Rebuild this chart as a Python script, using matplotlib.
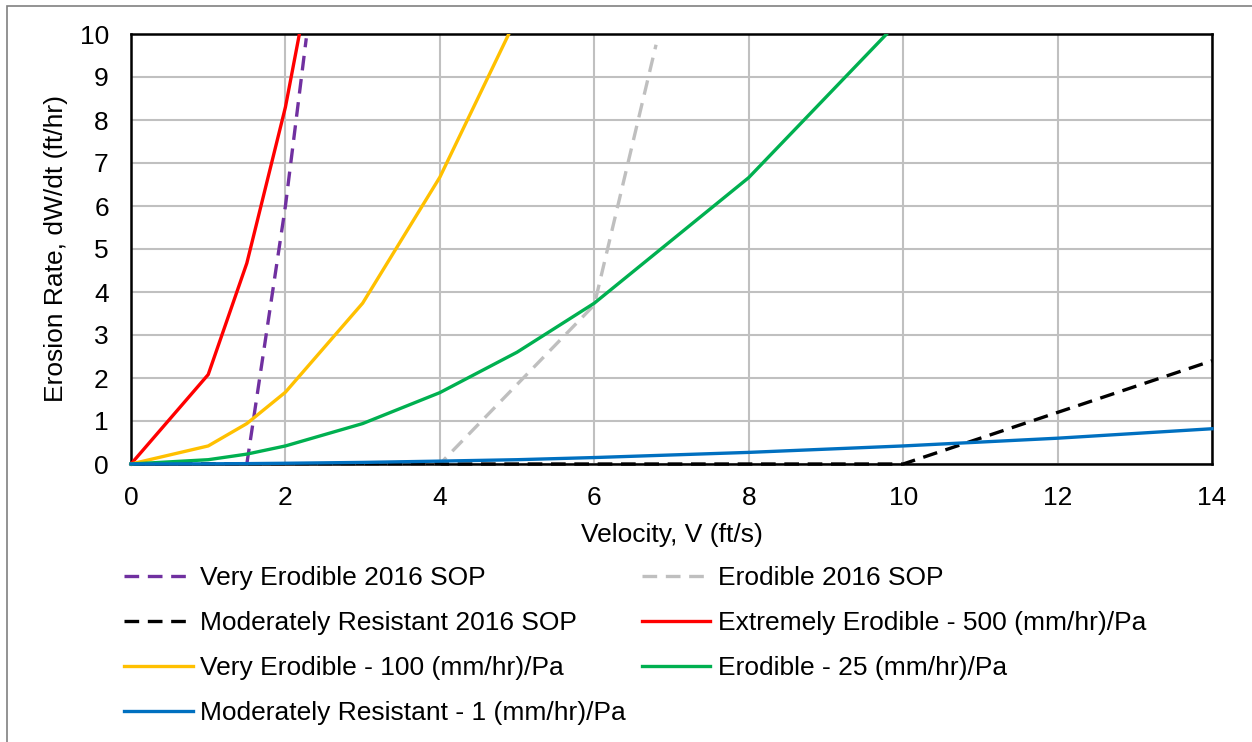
import matplotlib
matplotlib.use("Agg")
import matplotlib.pyplot as plt
from matplotlib.patches import Rectangle

plt.rcParams['font.family'] = ['Liberation Sans', 'DejaVu Sans']

# 2016 SOP curves (dashed)
ve_sop_v = [0, 1.5, 2.0, 2.27]
ve_sop_e = [0, 0, 6.0, 9.9]
e_sop_v = [0, 4, 6, 6.8]
e_sop_e = [0, 0, 3.7, 9.75]
mr_sop_v = [0, 10, 14]
mr_sop_e = [0, 0, 2.4]

# erodibility curves (solid)
ee_v = [0, 1, 1.5, 2, 2.5]
ee_e = [0, 2.08, 4.67, 8.3, 13.0]
ve_v = [0, 1, 1.5, 2, 3, 4, 5]
ve_e = [0, 0.42, 0.94, 1.67, 3.74, 6.67, 10.4]
er_v = [0, 1, 1.5, 2, 3, 4, 5, 6, 8, 10, 12]
er_e = [0, 0.10, 0.23, 0.42, 0.94, 1.66, 2.6, 3.74, 6.66, 10.4, 15.0]
mr_v = [0, 1, 1.5, 2, 3, 4, 5, 6, 8, 10, 12, 14]
mr_e = [0, 0.004, 0.009, 0.017, 0.037, 0.067, 0.10, 0.15, 0.27, 0.42, 0.60, 0.82]

xticks = [0, 2, 4, 6, 8, 10, 12, 14]
yticks = list(range(0, 11))

fs = 19
fig = plt.figure(figsize=(12.52, 7.42), dpi=100)
ax = fig.add_axes([131 / 1252, 1 - 464 / 742, 1081 / 1252, 430 / 742])

# outer chart frame
fig.patches.append(Rectangle((7 / 1252, -0.1), 1.2, 1 - 6 / 742 + 0.1,
                             transform=fig.transFigure, fill=False,
                             edgecolor="#808080", linewidth=1.2))

lw = 2.4
dash = (4.4, 2.6)
series = [
    (ve_sop_v, ve_sop_e, "#7030A0", True, "Very Erodible 2016 SOP"),
    (e_sop_v, e_sop_e, "#BFBFBF", True, "Erodible 2016 SOP"),
    (mr_sop_v, mr_sop_e, "#000000", True, "Moderately Resistant 2016 SOP"),
    (ee_v, ee_e, "#FF0000", False, "Extremely Erodible - 500 (mm/hr)/Pa"),
    (ve_v, ve_e, "#FFC000", False, "Very Erodible - 100 (mm/hr)/Pa"),
    (er_v, er_e, "#00B050", False, "Erodible - 25 (mm/hr)/Pa"),
    (mr_v, mr_e, "#0070C0", False, "Moderately Resistant - 1 (mm/hr)/Pa"),
]

clip = Rectangle((-0.005, -0.012), 1.01, 1.012, transform=ax.transAxes)
handles = []
for v, e, c, dashed, lab in series:
    if dashed:
        ln, = ax.plot(v, e, color=c, lw=lw, dashes=dash, label=lab, zorder=3,
                      dash_capstyle="butt")
    else:
        ln, = ax.plot(v, e, color=c, lw=lw, label=lab, zorder=3)
    ln.set_clip_path(clip)
    handles.append(ln)

ax.set_xlim(0, 14)
ax.set_ylim(0, 10)
ax.set_xticks(xticks)
ax.set_yticks(yticks)
ax.grid(True, color="#C0C0C0", linewidth=1.5)
ax.set_axisbelow(True)
for s in ax.spines.values():
    s.set_linewidth(1.8)
    s.set_color("black")
ax.tick_params(axis="both", length=0, labelsize=fs, pad=16)

ax.set_xlabel("Velocity, V (ft/s)", fontsize=fs)
ax.xaxis.set_label_coords(0.5, -(535 - 464) / 430)
ax.xaxis.label.set_va("center")
ax.set_ylabel("Erosion Rate, dW/dt (ft/hr)", fontsize=fs)
ax.yaxis.set_label_coords((56 - 131) / 1081, 0.5)
ax.yaxis.label.set_va("center")

order = [0, 2, 4, 6, 1, 3, 5]
fig.legend([handles[i] for i in order], [series[i][4] for i in order],
           ncol=2, loc="upper left", bbox_to_anchor=(124 / 1252, 1 - 566 / 742),
           frameon=False, fontsize=fs, handlelength=2.6, handletextpad=0.27,
           labelspacing=0.8, columnspacing=0.62, borderpad=0, borderaxespad=0)

fig.savefig("out.png", dpi=100)
